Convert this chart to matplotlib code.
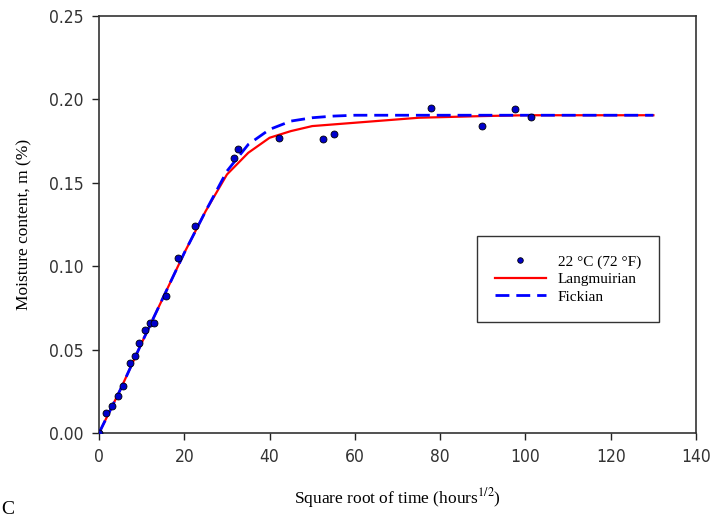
import numpy as np
import matplotlib.pyplot as plt

plt.rcParams['mathtext.fontset'] = 'stix'

# measured points at 22 C (72 F)
x_data = [0, 1.6, 3.1, 4.5, 5.6, 7.3, 8.4, 9.4, 10.8, 12.0, 12.9, 15.7, 18.5, 22.5,
          31.6, 32.7, 42.2, 52.5, 55.0, 77.9, 89.8, 97.6, 101.3]
m_data = [0.000, 0.012, 0.016, 0.022, 0.028, 0.042, 0.046, 0.054, 0.062, 0.066, 0.066,
          0.082, 0.105, 0.124, 0.165, 0.170, 0.177, 0.176, 0.179, 0.195, 0.184, 0.194, 0.1895]

# model curves
x_lang = [0, 5, 10, 15, 20, 25, 30, 35, 40, 45, 50, 55, 60, 65, 75, 90, 100, 130]
m_lang = [0.000, 0.026, 0.054, 0.081, 0.108, 0.133, 0.155, 0.168, 0.177, 0.181, 0.184,
          0.185, 0.186, 0.187, 0.189, 0.190, 0.1905, 0.1905]
x_fick = [0, 5, 10, 15, 20, 25, 30, 35, 40, 45, 50, 55, 60, 80, 130]
m_fick = [0.000, 0.026, 0.054, 0.081, 0.108, 0.133, 0.157, 0.173, 0.182, 0.187, 0.189,
          0.190, 0.1905, 0.1905, 0.1905]

serif = ['Liberation Serif', 'DejaVu Serif']

fig = plt.figure(figsize=(7.13, 5.19), dpi=100)
ax = fig.add_axes([0.1389, 0.1657, 0.8373, 0.8035])

ax.plot(x_lang, m_lang, color='red', lw=1.6, label='Langmuirian', zorder=2)
ax.plot(x_fick, m_fick, color='blue', lw=2.0, ls=(0, (5, 2.5)), label='Fickian', zorder=3)
ax.plot(x_data, m_data, 'o', color='#0000cc', mec='black', mew=0.6, ms=5,
        label='22 \u00b0C (72 \u00b0F)', zorder=4)

ax.set_xlim(0, 140)
ax.set_ylim(0, 0.25)
ax.set_xticks(np.arange(0, 141, 20))
ax.set_yticks(np.arange(0, 0.251, 0.05))
ax.set_yticklabels(['%.2f' % v for v in np.arange(0, 0.251, 0.05)])
ax.tick_params(direction='out', length=5, width=1, colors='#222222', labelsize=12.5,
               top=False, right=False, pad=6)
for lab in ax.get_xticklabels() + ax.get_yticklabels():
    lab.set_family('DejaVu Sans')
    lab.set_stretch('condensed')
    lab.set_color('#333333')
for sp in ax.spines.values():
    sp.set_color('#333333')
    sp.set_linewidth(1.2)

ax.set_xlabel('Square root of time (hours$^{1/2}$)', family=serif, fontsize=12.5, labelpad=14)
ax.set_ylabel('Moisture content, m (%)', family=serif, fontsize=12.5, labelpad=12)

h, l = ax.get_legend_handles_labels()
order = [2, 0, 1]
leg = ax.legend([h[i] for i in order], [l[i] for i in order],
                loc='upper left', bbox_to_anchor=(0.62, 0.49), prop={'family': serif, 'size': 11},
                frameon=True, fancybox=False, edgecolor='black', borderpad=1.2,
                handlelength=3.3, labelspacing=0.25, markerscale=0.8)
leg.get_frame().set_linewidth(1.0)

fig.text(0.002, 0.01, 'C', family=serif, fontsize=14)

fig.savefig('out.png', dpi=100)
